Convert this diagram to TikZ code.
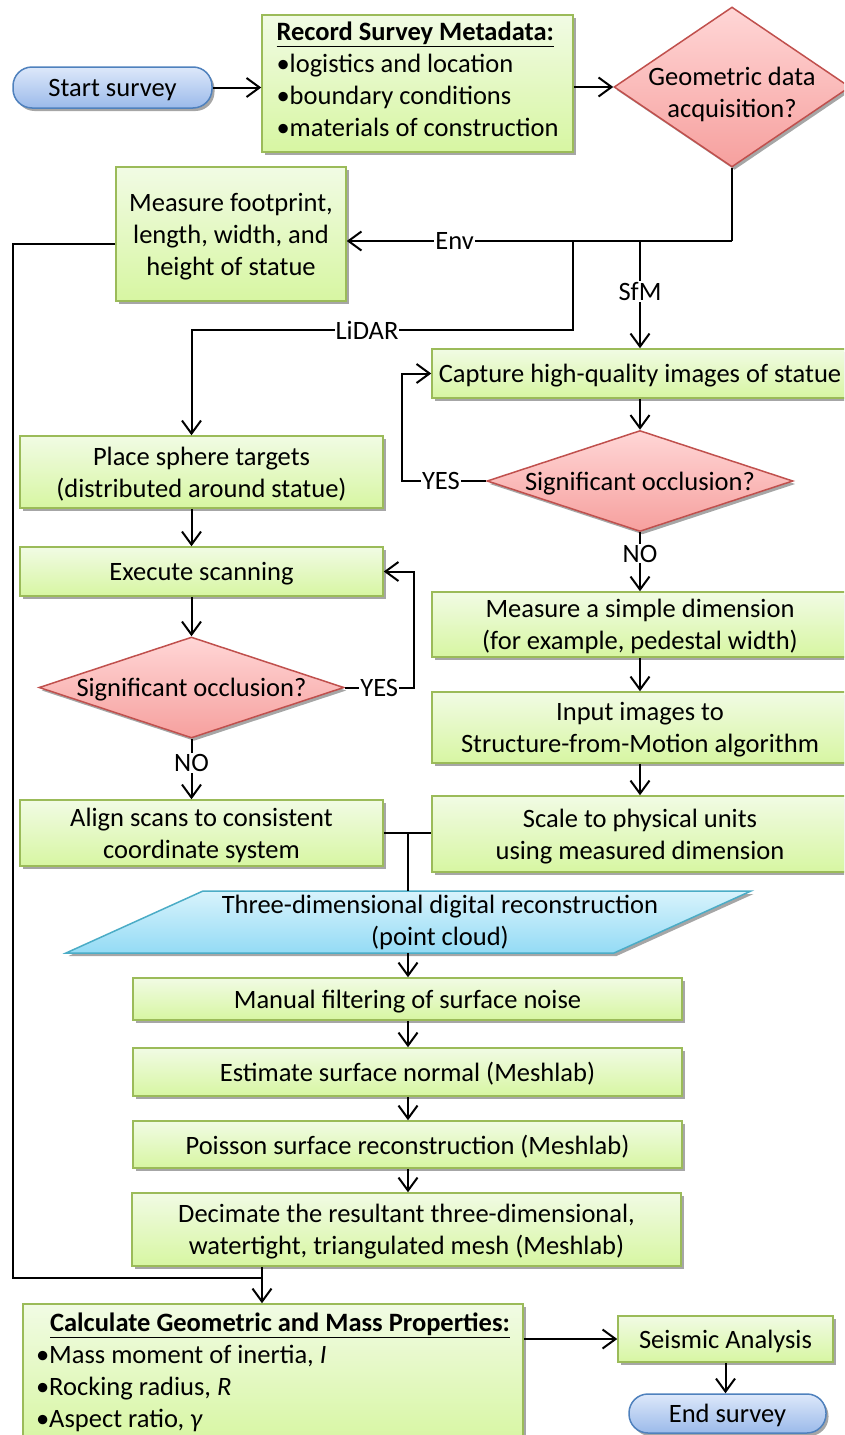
\documentclass[tikz,border=0pt]{standalone}
\usepackage{fontspec}
\setmainfont{Carlito}
\definecolor{BoxTop}{RGB}{241,251,228}
\definecolor{BoxBot}{RGB}{215,246,162}
\definecolor{BoxLine}{RGB}{155,187,89}
\definecolor{DecTop}{RGB}{255,214,214}
\definecolor{DecBot}{RGB}{246,160,158}
\definecolor{DecLine}{RGB}{192,80,77}
\definecolor{TermTop}{RGB}{221,232,250}
\definecolor{TermBot}{RGB}{155,186,234}
\definecolor{TermLine}{RGB}{79,129,189}
\definecolor{CloudTop}{RGB}{216,243,252}
\definecolor{CloudBot}{RGB}{148,219,245}
\definecolor{CloudLine}{RGB}{75,172,198}
\usetikzlibrary{
    shapes.geometric,
    arrows.meta,
    shadows,
}

\begin{document}
\begin{tikzpicture}[
    x=1pt, y=-1pt,
    every node/.style={font=\fontsize{26.5}{32}\selectfont},
    boxshadow/.style={drop shadow={shadow xshift=2.5pt, shadow yshift=-3pt, opacity=0.35, fill=black}},
    stepbox/.style={rectangle, draw=BoxLine, line width=1.5pt, top color=BoxTop, bottom color=BoxBot, align=center, inner sep=2pt, text depth=0pt, boxshadow},
    decision/.style={diamond, draw=DecLine, line width=1.5pt, top color=DecTop, bottom color=DecBot, inner sep=0pt, boxshadow},
    asks/.style={align=center, text depth=0pt},
    terminal/.style={rectangle, rounded corners=19pt, draw=TermLine, line width=1.5pt, top color=TermTop, bottom color=TermBot, inner sep=2pt, text depth=0pt, boxshadow},
    cloudbox/.style={draw=CloudLine, line width=1.5pt, top color=CloudTop, bottom color=CloudBot, boxshadow},
    flow/.style={line width=2pt, -{Straight Barb[length=13pt, width=19pt]}},
    link/.style={line width=2pt},
    lbl/.style={fill=white, inner sep=1pt}
]
    \useasboundingbox (0,0) rectangle (844,1435);
    \clip (0,0) rectangle (844,1435);

    \node[terminal, minimum width=199pt, minimum height=41pt] (start) at (112.5,87.5) {Start survey};
    \node[stepbox, minimum width=311pt, minimum height=137pt, align=left, text depth=9pt] (meta) at (417.5,83.5)
        {\underline{\textbf{Record Survey Metadata:}}\\•logistics and location\\•boundary conditions\\•materials of construction};
    \node[decision, minimum width=236pt, minimum height=160pt,
        label={[asks, yshift=-5pt]center:{Geometric data\\acquisition?}}] (geo) at (732,87) {};
    \node[stepbox, minimum width=230pt, minimum height=134pt] (foot) at (231,234)
        {Measure footprint,\\length, width, and\\height of statue};

    \node[stepbox, minimum width=416pt, minimum height=49pt] (capture) at (640,373.5) {Capture high-quality images of statue};
    \node[decision, minimum width=306pt, minimum height=101pt,
        label={[asks]center:Significant occlusion?}] (occR) at (640,481) {};
    \node[stepbox, minimum width=416pt, minimum height=65pt] (simple) at (640,624.5)
        {Measure a simple dimension\\(for example, pedestal width)};
    \node[stepbox, minimum width=416pt, minimum height=71pt] (input) at (640,727.5)
        {Input images to\\Structure-from-Motion algorithm};
    \node[stepbox, minimum width=416pt, minimum height=76pt] (scale) at (640,834)
        {Scale to physical units\\using measured dimension};

    \node[stepbox, minimum width=363pt, minimum height=72pt] (sphere) at (201.5,472)
        {Place sphere targets\\(distributed around statue)};
    \node[stepbox, minimum width=363pt, minimum height=49pt] (scan) at (201.5,571.5) {Execute scanning};
    \node[decision, minimum width=305pt, minimum height=101pt,
        label={[asks]center:Significant occlusion?}] (occL) at (191.5,687.5) {};
    \node[stepbox, minimum width=363pt, minimum height=66pt] (align) at (201.5,833)
        {Align scans to consistent\\coordinate system};

    \draw[cloudbox] (66,953) -- (203,891) -- (751,891) -- (614,953) -- cycle;
    \node[align=center] (cloud) at (440,922) {Three-dimensional digital reconstruction\\(point cloud)};
    \coordinate (cloudtop) at (408,891);
    \coordinate (cloudbot) at (408,953);

    \node[stepbox, minimum width=549pt, minimum height=42pt] (filter) at (407.5,999) {Manual filtering of surface noise};
    \node[stepbox, minimum width=549pt, minimum height=48pt] (normal) at (407.5,1072) {Estimate surface normal (Meshlab)};
    \node[stepbox, minimum width=549pt, minimum height=47pt] (poisson) at (407.5,1144.5) {Poisson surface reconstruction (Meshlab)};
    \node[stepbox, minimum width=549pt, minimum height=73pt] (decimate) at (406.5,1229.5)
        {Decimate the resultant three-dimensional,\\watertight, triangulated mesh (Meshlab)};

    \node[stepbox, minimum width=500pt, minimum height=140pt, align=left, text depth=7pt] (calc) at (273,1374)
        {\hspace*{14pt}\underline{\textbf{Calculate Geometric and Mass Properties:}}\\•Mass moment of inertia, \textit{I}\\•Rocking radius, \textit{R}\\•Aspect ratio, \textit{γ}};
    \node[stepbox, minimum width=215pt, minimum height=46pt] (seismic) at (725.5,1339) {Seismic Analysis};
    \node[terminal, minimum width=197pt, minimum height=39pt] (end) at (727.5,1413.5) {End survey};

    \coordinate (jEnv) at (732,241);
    \coordinate (jLid) at (573,241);
    \coordinate (jSfm) at (640,241);
    \coordinate (jCloud) at (408,833);
    \coordinate (jLeft) at (13,1278);
    \coordinate (jCalc) at (262,1278);

    \draw[flow] (start.east) -- (start.east -| meta.west);
    \draw[flow] (meta.east |- geo) -- (geo.west);
    \draw[link] (geo.south) -- (jEnv);
    \draw[flow] (jEnv) -- node[lbl, pos=0.72] {Env} (foot.east |- jEnv);
    \draw[flow] (jLid) -- ++(0,89) -| node[lbl, pos=0.27] {LiDAR} (sphere.north -| occL);
    \draw[flow] (jSfm) -- node[lbl, pos=0.47] {SfM} (capture.north);

    \draw[flow] (capture.south) -- (occR.north);
    \draw[flow] (occR.west) -- node[lbl, pos=0.54] {YES} ++(-84,0) |- (capture.west);
    \draw[flow] (occR.south) -- node[lbl, pos=0.36] {NO} (simple.north);
    \draw[flow] (simple.south) -- (input.north);
    \draw[flow] (input.south) -- (scale.north);

    \draw[flow] (sphere.south -| occL) -- (scan.north -| occL);
    \draw[flow] (scan.south -| occL) -- (occL.north);
    \draw[flow] (occL.east) -- node[lbl, pos=0.5] {YES} ++(69,0) |- (scan.east);
    \draw[flow] (occL.south) -- node[lbl, pos=0.4] {NO} (align.north -| occL);

    \draw[link] (align.east) -- (scale.west |- align.east);
    \draw[link] (jCloud) -- (cloudtop);
    \draw[flow] (cloudbot) -- (cloudbot |- filter.north);
    \draw[flow] (filter.south -| cloudbot) -- (normal.north -| cloudbot);
    \draw[flow] (normal.south -| cloudbot) -- (poisson.north -| cloudbot);
    \draw[flow] (poisson.south -| cloudbot) -- (decimate.north -| cloudbot);

    \draw[link] (decimate.south -| jCalc) -- (jCalc);
    \draw[flow] ([yshift=-10pt]foot.west) -| (jLeft) -| (calc.north -| jCalc);
    \draw[flow] (calc.east |- seismic) -- (seismic.west);
    \draw[flow] (seismic.south) -- (seismic.south |- end.north);
\end{tikzpicture}
\end{document}
